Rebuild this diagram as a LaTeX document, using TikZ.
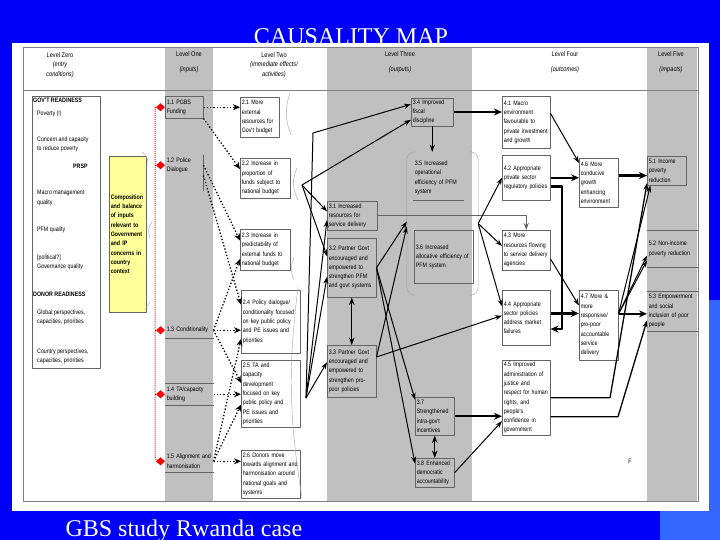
\documentclass[tikz,border=0pt]{standalone}
\usepackage{fontspec}
\setmainfont{Liberation Serif}
\newfontfamily\narrowsans[FakeStretch=0.83]{Liberation Sans}
\usetikzlibrary{arrows.meta,calc}
\definecolor{slideblue}{RGB}{0,0,250}
\definecolor{paleblue}{RGB}{51,102,255}
\definecolor{colgray}{RGB}{192,192,192}
\definecolor{boxline}{RGB}{100,100,100}
\definecolor{notepad}{RGB}{255,255,153}
\newcommand\mapfont{\narrowsans\fontsize{6.4}{9.3}\selectfont}
\newcommand\headfont{\narrowsans\fontsize{6.8}{9.5}\selectfont}

\begin{document}
\begin{tikzpicture}[x=1pt, y=-1pt, >=Stealth, line join=round,
	item/.style={draw=boxline, line width=0.5pt, anchor=north west, align=left, inner sep=1.5pt, font=\mapfont},
	bare/.style={item, draw=none},
	side/.style={anchor=west, align=left, inner sep=0pt, font=\mapfont},
	head/.style={align=center, inner sep=0pt, font=\headfont},
	push/.style={dotted, line width=1.3pt, -{Stealth[length=7pt,width=6pt]}},
	link/.style={line width=1pt, -{Stealth[length=7pt,width=5pt]}},
	heavy/.style={line width=2.2pt, -{Stealth[length=8pt,width=7pt]}},
	feed/.style={red, densely dotted, line width=1pt},
	paren/.style={gray!70, line width=0.4pt}]
	% [Slide - Layer 1]
	\useasboundingbox (0,0) rectangle (720,540);
	\fill[slideblue] (0,0) rectangle (720,540);
	\fill[paleblue] (660,300) rectangle (720,540);
	\node[font=\fontsize{24}{24}\selectfont, text=white, anchor=base] (title) at (351,45) {CAUSALITY MAP};
	\fill[white] (12,43) rectangle (709,511);
	\node[font=\fontsize{24}{24}\selectfont, text=white, anchor=base west] (foot) at (62,536) {GBS study Rwanda case};
	
	% [Table - Layer 2]
	\fill[colgray] (165,47) rectangle (213,501);
	\fill[colgray] (327,47) rectangle (472,501);
	\fill[colgray] (647,47) rectangle (697,501);
	\draw[gray, line width=0.6pt] (23,47) rectangle (698,501);
	\draw[gray, line width=0.6pt] (23,90) -- (698,90);
	\node[head] (h0) at (60,65) {Level Zero\\\itshape (entry\\\itshape conditions)};
	\node[head] (h1) at (189,62) {Level One\\[5.5pt]\itshape (inputs)};
	\node[head] (h2) at (274,65) {Level Two\\\itshape (immediate effects/\\\itshape activities)};
	\node[head] (h3) at (400,62) {Level Three\\[5.5pt]\itshape (outputs)};
	\node[head] (h4) at (565,62) {Level Four\\[5.5pt]\itshape (outcomes)};
	\node[head] (h5) at (671,62) {Level Five\\[5.5pt]\itshape (impacts)};
	
	% [Level Zero]
	\draw[boxline, line width=0.5pt] (32,96) rectangle (100,368);
	\node[side] (gr) at (33,100) {\bfseries GOV'T READINESS};
	\node[side] (g1) at (37,114) {Poverty (!)};
	\node[side] (g2) at (37,144) {Concern and capacity\\to reduce poverty};
	\node[side] (g3) at (73,166) {\bfseries PRSP};
	\node[side] (g4) at (37,198) {Macro management\\quality};
	\node[side] (g5) at (37,230) {PFM quality};
	\node[side] (g6) at (37,262.5) {[political?]\\Governance quality};
	\node[side] (dr) at (33,294) {\bfseries DONOR READINESS};
	\node[side] (d1) at (37,317.5) {Global perspectives,\\capacities, priorities};
	\node[side] (d2) at (37,356.5) {Country perspectives,\\capacities, priorities};
	\node[item, fill=notepad, text width=34pt, minimum height=156pt] (mix) at (109,156)
		{\bfseries Composition\\and balance\\of inputs\\relevant to\\Government\\and IP\\concerns in\\country\\context};
	
	% [Level One]
	\node[item, text width=35pt, minimum height=22pt] (t11) at (165,96) {1.1 PGBS\\Funding};
	\node[bare, text width=35pt, minimum height=20pt] (t12) at (165,155) {1.2 Police\\Dialogue};
	\node[bare, text width=45pt, minimum height=16pt] (t13) at (165,322) {1.3 Conditionality};
	\node[bare, text width=45pt, minimum height=22pt] (t14) at (165,383) {1.4 TA/capacity\\building};
	\node[bare, text width=45pt, minimum height=22pt] (t15) at (165,450) {1.5 Alignment and\\harmonisation};
	\draw[boxline, line width=0.5pt] (t12.north east) -- ++(0,36);
	\draw[boxline, line width=0.5pt] (t13.south west) -- (t13.south east);
	\draw[boxline, line width=0.5pt] (t14.north west) -- (t14.north east) (t14.south west) -- (t14.south east);
	\draw[boxline, line width=0.5pt] (t15.south west) -- (t15.south east);
	
	% [Level Two]
	\node[item, text width=36pt, minimum height=40pt] (t21) at (240,97) {2.1 More\\external\\resources for\\Gov't budget};
	\node[item, text width=47pt, minimum height=40pt] (t22) at (240,158) {2.2 Increase in\\proportion of\\funds subject to\\national budget};
	\node[item, text width=47pt, minimum height=41pt] (t23) at (240,229) {2.3 Increase in\\predictability of\\external funds to\\national budget};
	\node[item, text width=56pt, minimum height=63pt] (t24) at (241,290) {2.4 Policy dialogue/\\conditionality focused\\on key public policy\\and PE issues and\\priorities};
	\node[item, text width=56pt, minimum height=67pt] (t25) at (241,360) {2.5 TA and\\capacity\\development\\focused on key\\public policy and\\PE issues and\\priorities};
	\node[item, text width=56pt, minimum height=48pt] (t26) at (241,450) {2.6 Donors move\\towards alignment and\\harmonisation around\\national goals and\\systems};
	
	% [Level Three]
	\node[item, text width=39pt, minimum height=27pt] (t34) at (411,98) {3.4 Improved\\fiscal\\discipline};
	\node[bare, text width=47pt, minimum height=45pt] (t35) at (413,155) {3.5 Increased\\operational\\efficiency of PFM\\system};
	\draw[boxline, line width=0.5pt] (t35.south west) -- (t35.south east);
	\node[item, text width=47pt, minimum height=29pt] (t31) at (327,201) {3.1 Increased\\resources for\\service delivery};
	\node[item, text width=56pt, minimum height=53pt] (t36) at (414,230) {3.6 Increased\\allocative efficiency of\\PFM system};
	\node[item, text width=46pt, minimum height=59pt] (t32) at (327,238) {3.2 Partner Govt\\encouraged and\\empowered to\\strengthen PFM\\and govt systems};
	\node[item, text width=46pt, minimum height=52pt] (t33) at (327,345) {3.3 Partner Govt\\encouraged and\\empowered to\\strengthen pro-\\poor policies};
	\node[item, text width=36pt, minimum height=38pt] (t37) at (415,397) {3.7\\Strengthened\\intra-gov't\\incentives};
	\node[item, text width=36pt, minimum height=29pt] (t38) at (415,458) {3.8 Enhanced\\democratic\\accountability};
	\node[minimum width=71pt, minimum height=143pt, inner sep=0pt] (grp) at (442.5,223.5) {};
	\draw[paren, rounded corners=8pt] ($(grp.north west)+(6,0)$) -- (grp.north west) -- (grp.south west) -- ($(grp.south west)+(6,0)$);
	\draw[paren, rounded corners=8pt] ($(grp.north east)+(-6,0)$) -- (grp.north east) -- (grp.south east) -- ($(grp.south east)+(-6,0)$);
	
	% [Level Four]
	\node[item, text width=45pt, minimum height=52pt] (t41) at (502,96) {4.1 Macro\\environment\\favourable to\\private investment\\and growth};
	\node[item, text width=45pt, minimum height=45pt] (t42) at (502,155) {4.2 Appropriate\\private sector\\regulatory policies};
	\node[item, text width=36pt, minimum height=49pt] (t46) at (579,158) {4.6 More\\conducive\\growth\\enhancing\\environment};
	\node[item, text width=45pt, minimum height=40pt] (t43) at (502,230) {4.3 More\\resources flowing\\to service delivery\\agencies};
	\node[item, text width=45pt, minimum height=55pt] (t44) at (502,290) {4.4 Appropriate\\sector policies\\address market\\failures};
	\node[item, text width=36pt, minimum height=70pt] (t47) at (579,290) {4.7 More \&\\more\\responsive/\\pro-poor\\accountable\\service\\delivery};
	\node[item, text width=45pt, minimum height=75pt] (t45) at (502,360) {4.5 Improved\\administration of\\justice and\\respect for human\\rights, and\\people's\\confidence in\\government};
	\node[font=\mapfont] (fmark) at (630,461) {F};
	
	% [Level Five]
	\node[item, text width=36pt, minimum height=29pt] (t51) at (647,156) {5.1 Income\\poverty\\reduction};
	\node[bare, text width=47pt, minimum height=37pt] (t52) at (647,230) {5.2 Non-income\\poverty reduction};
	\node[bare, text width=47pt, minimum height=40pt] (t53) at (647,291) {5.3 Empowerment\\and social\\inclusion of poor\\people};
	\draw[boxline, line width=0.5pt] (t52.north west) -- (t52.north east) (t52.south west) -- (t52.south east);
	\draw[boxline, line width=0.5pt] (t53.north west) -- (t53.north east) (t53.south west) -- (t53.south east);
	
	% [Brackets left over in the map]
	\draw[paren] (142,152) to[bend left=30] (148,166);
	\draw[paren] (152,222) to[bend right=30] (150,238);
	\draw[paren] (145,309) -- (150,302);
	\draw[paren] (290,93) to[bend right=20] (291,135);
	\draw[paren] (297,168) to[bend right=25] (298,200);
	\draw[paren] (294,258) to[bend right=25] (294,280);
	\draw[paren] (298,287) to[bend right=8] (302,498);
	
	% [Red rail to the inputs]
	\coordinate (rail) at (155,0);
	\draw[feed, rounded corners=4pt, -{Diamond[length=9pt,width=8pt]}] (rail |- t11.west) -- (rail |- t15.west) -- (t15.west);
	\foreach \n in {t11,t12,t13,t14}
		\draw[feed, -{Diamond[length=9pt,width=8pt]}] (rail |- \n.west) -- (\n.west);
	
	% [Inputs -> immediate effects]
	\draw[push] (t11.east) -- (t11.east -| t21.west);
	\draw[push] (t11.south east) -- (t22.160);
	\draw[push] (t12.east) -- (t23.160);
	\draw[push] (t12.south east) -- (t24.150);
	\draw[push] (t13.east) -- (t23.200);
	\draw[push] (t13.east) -- (t13.east -| t24.west);
	\draw[push] (t13.east) -- (t25.160);
	\draw[push] (t14.east) -- (t14.east -| t25.west);
	\draw[push] (t15.east) -- (t24.210);
	\draw[push] (t15.east) -- (t25.200);
	\draw[push] (t15.east) -- (t15.east -| t26.west);
	
	% [Immediate effects -> outputs]
	\coordinate (fa) at (302,185);
	\coordinate (fb) at (306,398);
	\coordinate (kink) at (313,133);
	\draw[link] (fa) -- (t34.200);
	\draw[link] (fa) -- (t31.170);
	\draw[link] (fa) -- (t32.155);
	\draw[link] (fb) -- (kink) -- (t34.160);
	\draw[link] (fb) -- (t31.190);
	\draw[link] (fb) -- (t32.200);
	\draw[link] (fb) -- (t33.160);
	
	% [Outputs]
	\draw[link] (t34.south) -- (t34.south |- grp.north);
	\draw[link] (t32.east) -- (grp.177);
	\draw[link] (t33.30) -- (grp.185);
	\draw[link] (t32.east) -- (t37.140);
	\draw[link] (t32.east) -- (t38.155);
	\draw[<->, line width=1pt] (t32.south) -- (t33.north);
	\draw[<->, line width=1pt] (t37.south) -- (t38.north);
	
	% [Outputs -> outcomes]
	\draw[heavy] (t34.east) -- (t34.east -| t41.west);
	\draw[line width=1.5pt, boxline, -{Stealth[length=7pt,width=5pt]}] (t31.east) -| (t43.north);
	\draw[link] (grp.east) -- (t42.west);
	\draw[link] (grp.east) -- (t43.170);
	\draw[link] (grp.east) -- (t44.155);
	\draw[link] (t33.30) -- (t44.175);
	\draw[heavy] (t37.east) -- (t37.east -| t45.west);
	\draw[link] (t38.east) -- (t45.224);
	
	% [Outcomes -> impacts]
	\coordinate (turn) at (562,0);
	\coordinate (k1) at (610,0);
	\coordinate (k2) at (618,0);
	\draw[link] (t41.20) -- (t46.135);
	\draw[heavy] (t42.east) -- (t42.east -| t46.west);
	\draw[heavy] (t46.20) -- (t46.20 -| t51.west);
	\draw[heavy] (t42.340) -- (t42.340 -| turn) |- (t44.335);
	\draw[heavy] (t44.10) -- (t44.10 -| t47.west);
	\draw[link] (t43.340) -- (t47.135);
	\draw[link, line width=1.3pt] (t45.east) -- (t45.east -| k1) -- (t51.212);
	\draw[link, line width=1.3pt] (t45.322) -- (t45.322 -| k2) -- (t53.200);
	\draw[heavy] (t47.30) -- (t47.30 -| t53.west);
	\draw[link] (t47.30) -- (t52.195);
	\draw[link] (t47.30) -- (t52.205);
	\draw[link] (t47.30) -- (t51.222);
\end{tikzpicture}
\end{document}
